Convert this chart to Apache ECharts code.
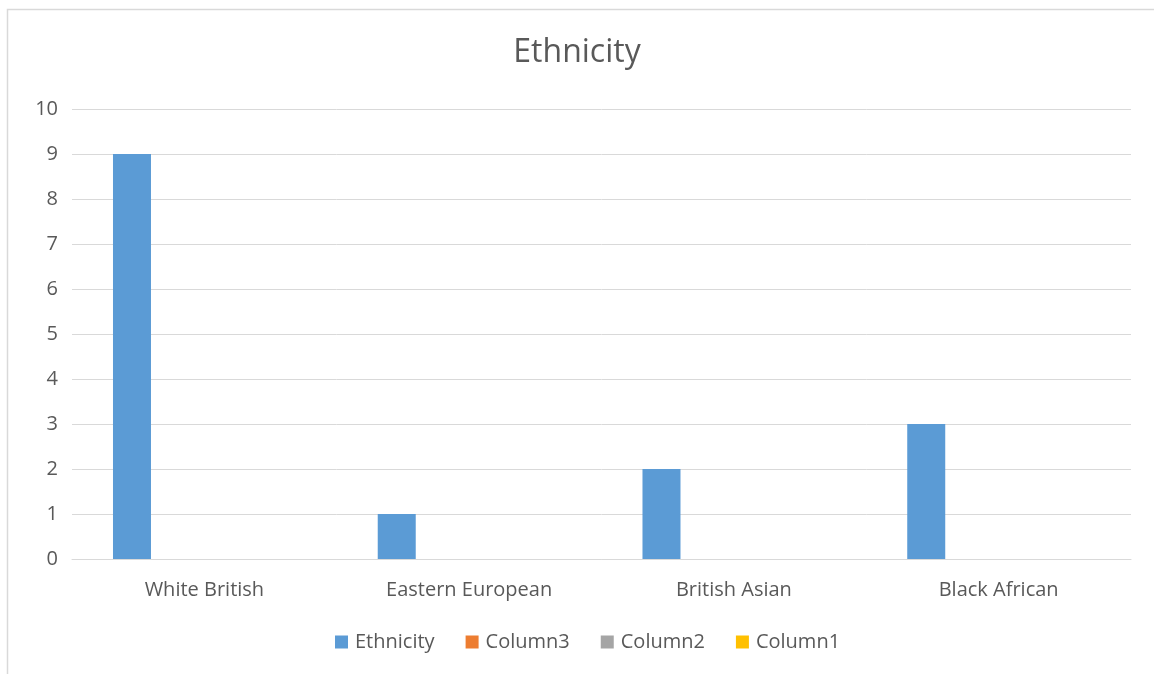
<!DOCTYPE html>
<html><head><meta charset="utf-8">
<script src="https://cdn.jsdelivr.net/npm/echarts@6/dist/echarts.min.js"></script>
<style>html,body{margin:0;padding:0;background:#fff}#c{width:1154px;height:674px}</style>
</head><body><div id="c"></div>
<script>
const categories = ['White British','Eastern European','British Asian','Black African'];
const ethnicity = [9,1,2,3];
const column3 = [null,null,null,null];
const column2 = [null,null,null,null];
const column1 = [null,null,null,null];
const seriesNames = ['Ethnicity','Column3','Column2','Column1'];
const seriesColors = ['#5b9bd5','#ed7d31','#a5a5a5','#ffc000'];
const seriesData = [ethnicity,column3,column2,column1];
const font = 'Open Sans';
const chart = echarts.init(document.getElementById('c'));
chart.setOption({
  animation:false,
  title:{text:'Ethnicity',left:'center',top:32,textStyle:{fontFamily:font,fontSize:32,fontWeight:'normal',color:'#595959'}},
  graphic:[{type:'rect',shape:{x:7.5,y:9.5,width:1160,height:700},style:{fill:'none',stroke:'#d9d9d9',lineWidth:1.5}}],
  legend:{bottom:17,left:330,itemWidth:13,itemHeight:13,itemGap:31,icon:'rect',
    textStyle:{fontFamily:font,fontSize:20,color:'#595959',padding:[0,0,0,2]},data:seriesNames},
  grid:{left:72,right:23,top:109,bottom:115,containLabel:false},
  xAxis:{type:'category',data:categories,axisTick:{show:false},
    axisLine:{lineStyle:{color:'#d9d9d9',width:1}},
    axisLabel:{fontFamily:font,fontSize:20,color:'#595959',margin:21}},
  yAxis:{type:'value',min:0,max:10,interval:1,
    axisLabel:{fontFamily:font,fontSize:20,color:'#595959',margin:14},
    splitLine:{lineStyle:{color:'#d9d9d9',width:1}}},
  series:seriesData.map((d,i)=>({name:seriesNames[i],type:'bar',data:d,barWidth:38,barGap:'27%',
    itemStyle:{color:seriesColors[i]}}))
});
</script></body></html>
